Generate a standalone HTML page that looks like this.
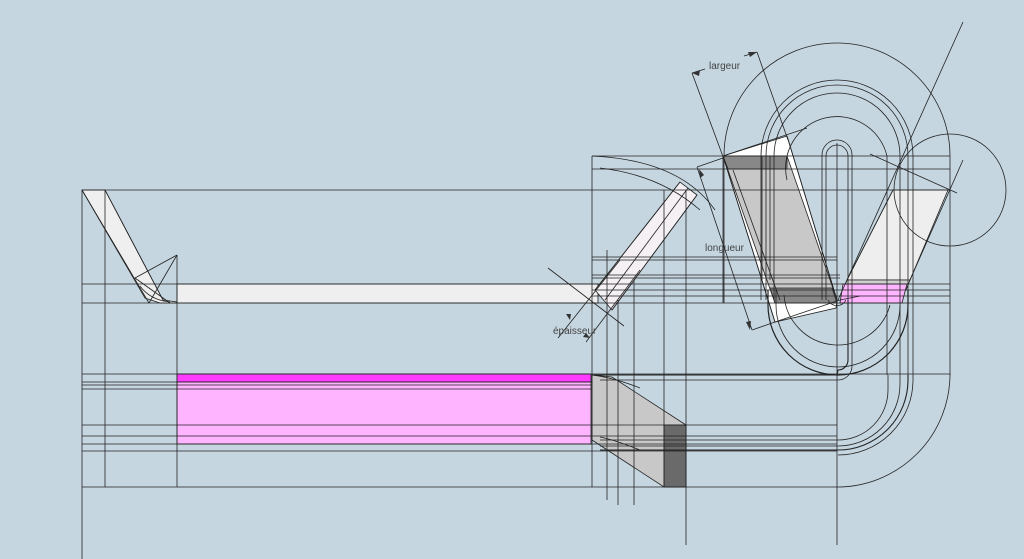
<!DOCTYPE html>
<html><head><meta charset="utf-8"><style>
html,body{margin:0;padding:0;background:#c5d6e0;}
svg{display:block;}
text{font-family:"Liberation Sans",sans-serif;font-size:10px;fill:#444;}
</style></head><body>
<svg width="1024" height="559" viewBox="0 0 1024 559" xmlns="http://www.w3.org/2000/svg">
<rect width="1024" height="559" fill="#c5d6e0"/>
<g stroke="#222" stroke-width="0.8" fill="none">
<polygon points="82,190 105,190 163,300 177,302 177,284 598,284 598,303 160,303 145,298 82,190" fill="#efefef"/>
<rect x="177" y="374" width="414" height="8" fill="#ff3cff"/>
<rect x="177" y="382" width="414" height="62" fill="#ffb4ff"/>
<polygon points="592,375 612,377 686,425 686,487 664,487 592,440" fill="#c8c8c8"/>
<rect x="664" y="425" width="22" height="62" fill="#6a6a6a"/>
<polygon points="595,290 680,182 697,195 612,310" fill="#f4f0f4"/>
<polygon points="723,156 787,136 837,300 836,308 775,322" fill="#ffffff"/>
<polygon points="723,156 787,156 837,300 775,303" fill="#c8c8c8"/>
<polygon points="723,156 787,156 787,169 728,169" fill="#888"/>
<polygon points="770,288 832,288 837,303 775,303" fill="#888"/>
<polygon points="893,190 948,190 910,280 847,280" fill="#eeeeee"/>
<polygon points="847,280 910,280 906,290 843,290" fill="#d0d0d0"/>
<polygon points="843,284 907,284 902,303 840,303" fill="#ffb4ff"/>
<line x1="82" y1="190" x2="82" y2="559"/>
<line x1="105" y1="190" x2="105" y2="487"/>
<line x1="177" y1="255" x2="177" y2="487"/>
<line x1="592" y1="156" x2="592" y2="487"/>
<line x1="607" y1="250" x2="607" y2="500"/>
<line x1="618" y1="300" x2="618" y2="505"/>
<line x1="634" y1="280" x2="634" y2="505"/>
<line x1="664" y1="190" x2="664" y2="487"/>
<line x1="686" y1="190" x2="686" y2="545"/>
<line x1="723" y1="156" x2="723" y2="303"/>
<line x1="837" y1="143" x2="837" y2="545"/>
<line x1="950" y1="156" x2="950" y2="375"/>
<line x1="592" y1="156" x2="950" y2="156"/>
<line x1="592" y1="169" x2="950" y2="169"/>
<line x1="82" y1="190" x2="950" y2="190"/>
<line x1="592" y1="257" x2="837" y2="257"/>
<line x1="592" y1="260" x2="837" y2="260"/>
<line x1="592" y1="275" x2="840" y2="275"/>
<line x1="592" y1="278" x2="840" y2="278"/>
<line x1="82" y1="284" x2="950" y2="284"/>
<line x1="592" y1="290" x2="950" y2="290"/>
<line x1="592" y1="296" x2="950" y2="296"/>
<line x1="82" y1="303" x2="950" y2="303"/>
<line x1="82" y1="374" x2="950" y2="374"/>
<line x1="82" y1="382" x2="592" y2="382"/>
<line x1="82" y1="385" x2="592" y2="385"/>
<line x1="82" y1="389" x2="592" y2="389"/>
<line x1="82" y1="425" x2="837" y2="425"/>
<line x1="82" y1="436" x2="837" y2="436"/>
<line x1="82" y1="444" x2="837" y2="444"/>
<line x1="82" y1="451" x2="837" y2="451"/>
<line x1="82" y1="487" x2="837" y2="487"/>
<line x1="82" y1="190" x2="149" y2="303"/>
<line x1="105" y1="190" x2="163" y2="300"/>
<line x1="177" y1="255" x2="135" y2="278"/>
<line x1="177" y1="255" x2="149" y2="303"/>
<line x1="135" y1="278" x2="170" y2="303"/>
<path d="M140,286 Q150,300 170,302"/>
<line x1="595" y1="290" x2="680" y2="182"/>
<line x1="612" y1="310" x2="697" y2="195"/>
<line x1="605" y1="300" x2="688" y2="188"/>
<path d="M592,156 Q680,160 715,210"/>
<path d="M600,168 Q660,175 700,210"/>
<line x1="548" y1="268" x2="624" y2="326"/>
<line x1="558" y1="338" x2="620" y2="260"/>
<line x1="586" y1="342" x2="640" y2="270"/>
<line x1="723" y1="156" x2="775" y2="322"/>
<line x1="787" y1="136" x2="837" y2="300"/>
<line x1="723" y1="156" x2="807" y2="128"/>
<line x1="775" y1="322" x2="840" y2="300"/>
<line x1="733" y1="170" x2="780" y2="300"/>
<line x1="762" y1="156" x2="762" y2="280"/>
<line x1="770" y1="156" x2="770" y2="280"/>
<line x1="692" y1="73" x2="725" y2="162"/>
<line x1="757" y1="52" x2="788" y2="140"/>
<line x1="692" y1="73" x2="705" y2="69"/>
<line x1="744" y1="56" x2="757" y2="52"/>
<line x1="697" y1="167" x2="752" y2="330"/>
<line x1="697" y1="167" x2="723" y2="158"/>
<line x1="752" y1="330" x2="775" y2="322"/>
<line x1="963" y1="22" x2="838" y2="300"/>
<line x1="963" y1="160" x2="910" y2="280"/>
<line x1="870" y1="154" x2="957" y2="193"/>
<line x1="893" y1="190" x2="847" y2="280"/>
<line x1="840" y1="300" x2="860" y2="296"/>
<path d="M724,303 L724,156 A113,113 0 0 1 950,156"/>
<path d="M761,300 L761,156 A76,76 0 0 1 913,156 L913,375"/>
<path d="M766,300 L766,156 A71,71 0 0 1 908,156 L908,375"/>
<path d="M774,300 L774,156 A63,63 0 0 1 900,156 L900,375"/>
<path d="M787,180 A50,50 0 0 1 887,156 L887,375"/>
<path d="M822,300 L822,155 A15,15 0 0 1 852,155 L852,300"/>
<path d="M826,300 L826,156 A11,11 0 0 1 848,156 L848,300"/>
<circle cx="950" cy="190" r="56"/>
<path d="M768,290 L768,305 A70,70 0 0 0 908,305 L908,290" stroke-width="1.2"/>
<path d="M776,290 L776,305 A62,62 0 0 0 900,305"/>
<path d="M784,295 A54,54 0 0 0 890,305"/>
<path d="M828,300 A10,10 0 0 0 846,300"/>
<path d="M592,375 L837,375 L838,370 A10,10 0 0 0 848,360 L848,300" stroke-width="1.1"/>
<path d="M600,380 L838,380 A14,14 0 0 0 852,366 L852,300"/>
<path d="M600,440 L838,440 A50,50 0 0 0 888,390 L888,375"/>
<path d="M600,446 L838,446 A62,62 0 0 0 900,384 L900,375"/>
<path d="M600,450 L838,450 A70,70 0 0 0 908,380 L908,375" stroke-width="1.1"/>
<path d="M838,455 A75,75 0 0 0 913,380 L913,375"/>
<path d="M837,487 A113,113 0 0 0 950,374"/>
<path d="M592,375 Q615,378 640,388"/>
<path d="M600,437 Q615,440 640,450"/>
</g>
<g fill="#333">
<polygon points="692,73 700,70 699,76"/>
<polygon points="757,52 748,52 750,57"/>
<polygon points="699,169 700,178 704,175"/>
<polygon points="750,330 746,322 751,321"/>
<polygon points="570,320 566,314 571,314"/>
<polygon points="590,338 583,337 586,333"/>
</g>
<text x="709" y="69">largeur</text>
<text x="705" y="251">longueur</text>
<text x="553" y="334">épaisseur</text>
</svg>
</body></html>
